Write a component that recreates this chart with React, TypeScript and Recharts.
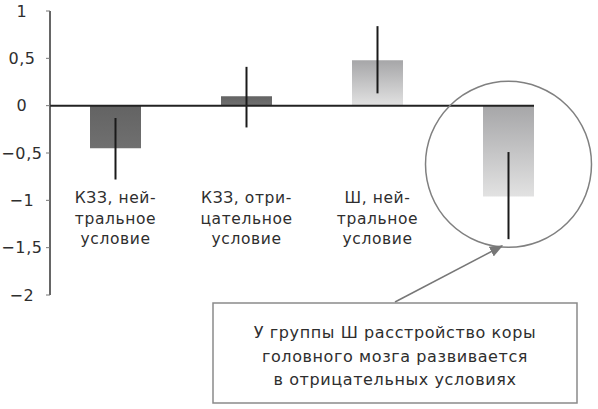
import { BarChart, Bar, XAxis, YAxis, Cell, ErrorBar, ReferenceLine, ReferenceDot } from 'recharts'

const categories = ['КЗЗ, нейтральное условие', 'КЗЗ, отрицательное условие', 'Ш, нейтральное условие', 'Ш, отрицательное условие']
const tickLines = [['КЗЗ, ней-', 'тральное', 'условие'], ['КЗЗ, отри-', 'цательное', 'условие'], ['Ш, ней-', 'тральное', 'условие'], []]
const means = [-0.45, 0.1, 0.48, -0.96]
const errLow = [0.33, 0.33, 0.35, 0.45]
const errHigh = [0.32, 0.31, 0.36, 0.47]
const yTicks = [1, 0.5, 0, -0.5, -1, -1.5, -2]
const noteLines = ['У группы Ш расстройство коры', 'головного мозга развивается', 'в отрицательных условиях']

const FONT = '"DejaVu Sans", sans-serif'
const TEXT = '#2e2e2e'

const data = categories.map((name, i) => ({
  name,
  value: means[i],
  err: [errLow[i], errHigh[i]],
}))

const fmt = (v: number) => String(v).replace('.', ',').replace('-', '−')

function CategoryTick({ x, index }: any) {
  const lines = tickLines[index] || []
  return (
    <text x={x} y={203} textAnchor="middle" fill={TEXT} fontSize={15.5} fontFamily={FONT} letterSpacing={0.6}>
      {lines.map((l, i) => (
        <tspan key={i} x={x} dy={i === 0 ? 0 : 20.5}>{l}</tspan>
      ))}
    </text>
  )
}

export default function App() {
  return (
    <div style={{ position: 'absolute', left: 0, top: 0, width: 598, height: 409, background: '#fff' }}>
      <BarChart
        width={598}
        height={409}
        data={data}
        margin={{ top: 11, right: 64, bottom: 113, left: 0 }}
      >
        <defs>
          <linearGradient id="lightGrad" x1="0" y1="0" x2="0" y2="1">
            <stop offset="0%" stopColor="#a6a6a8" />
            <stop offset="100%" stopColor="#e2e2e2" />
          </linearGradient>
          <linearGradient id="darkGrad" x1="0" y1="0" x2="0" y2="1">
            <stop offset="0%" stopColor="#636363" />
            <stop offset="100%" stopColor="#707070" />
          </linearGradient>
        </defs>
        <XAxis
          dataKey="name"
          height={1}
          axisLine={false}
          tickLine={false}
          padding={{ left: 0, right: -40 }}
          tick={<CategoryTick />}
          interval={0}
        />
        <YAxis
          width={50}
          domain={[-2, 1]}
          ticks={yTicks}
          interval={0}
          tickFormatter={fmt}
          tickSize={4}
          tickMargin={2}
          axisLine={{ stroke: '#333', strokeWidth: 1.5 }}
          tickLine={{ stroke: '#777', strokeWidth: 1 }}
          tick={{ fill: TEXT, fontSize: 16, fontFamily: FONT, textAnchor: 'middle', dx: -22, letterSpacing: 0.6 }}
        />
        <Bar dataKey="value" barSize={51} isAnimationActive={false}>
          {data.map((d, i) => (
            <Cell key={i} fill={i < 2 ? 'url(#darkGrad)' : 'url(#lightGrad)'} />
          ))}
          <ErrorBar dataKey="err" width={0} stroke="#1a1a1a" strokeWidth={2} direction="y" isAnimationActive={false} />
        </Bar>
        <ReferenceLine y={0} stroke="#222" strokeWidth={2} />
        <ReferenceDot
          x={categories[3]}
          y={-0.62}
          r={83}
          fill="none"
          stroke="#808080"
          strokeWidth={1.5}
        />
      </BarChart>
      <svg width={598} height={409} style={{ position: 'absolute', left: 0, top: 0, pointerEvents: 'none' }}>
        <defs>
          <marker id="arrowHead" viewBox="0 0 10 10" refX="9" refY="5" markerWidth="9" markerHeight="9" orient="auto">
            <path d="M0,1 L10,5 L0,9 Z" fill="#777" />
          </marker>
        </defs>
        <line x1={395} y1={302} x2={502} y2={246} stroke="#777" strokeWidth={1.5} markerEnd="url(#arrowHead)" />
        <rect x={213} y={303} width={364} height={100} fill="#fff" stroke="#8a8a8a" strokeWidth={1.5} />
        <text textAnchor="middle" fill={TEXT} fontSize={16} fontFamily={FONT} letterSpacing={0.6}>
          {noteLines.map((l, i) => (
            <tspan key={i} x={395} y={338 + i * 23.5}>{l}</tspan>
          ))}
        </text>
      </svg>
    </div>
  )
}
